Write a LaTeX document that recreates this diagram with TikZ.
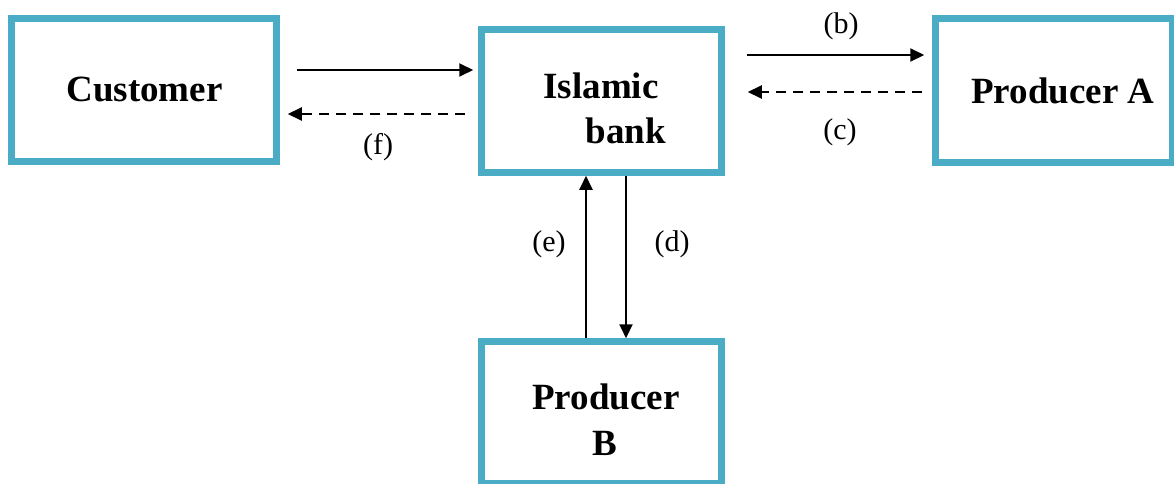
\documentclass[tikz,border=0pt]{standalone}
\usepackage{fontspec}
\setmainfont{Liberation Serif}
\usetikzlibrary{arrows.meta}
\definecolor{boxblue}{HTML}{4BACC6}
\tikzset{
  box/.style={draw=boxblue, line width=6.5pt, rectangle, inner sep=0pt, fill=white},
  bold/.style={font=\fontsize{37}{40}\selectfont\bfseries, inner sep=0pt, anchor=base},
  lbl/.style={font=\fontsize{30}{33}\selectfont, inner sep=0pt},
  arr/.style={line width=2pt, -{Triangle[length=14pt,width=13pt]}},
  darr/.style={arr, dash pattern=on 10pt off 7pt},
}
\begin{document}
\begin{tikzpicture}[x=1pt,y=-1pt]
\useasboundingbox (0,0) rectangle (1174,484);
\clip (0,0) rectangle (1174,484);
\fill[white] (0,0) rectangle (1174,484);
% boxes
\node[box, minimum width=265pt, minimum height=143pt] (cust) at (144,90) {};
\node[box, minimum width=240pt, minimum height=143pt] (bank) at (601.5,101) {};
\node[box, minimum width=237pt, minimum height=144pt] (proda) at (1054,90.5) {};
\node[box, minimum width=240pt, minimum height=142pt] (prodb) at (601.5,412.5) {};
% texts
\node[bold] (tcust) at (144.5,102) {Customer};
\node[bold] (tbank1) at (601,99) {Islamic};
\node[bold] (tbank2) at (626,143) {bank};
\node[bold] (tproda) at (1063,104) {Producer A};
\node[bold] (tprodb1) at (606,409) {Producer};
\node[bold] (tprodb2) at (605,455) {B};
% connectors
\draw[arr, shorten <=17pt, shorten >=5pt] (cust.east |- 0,70) -- (bank.west |- 0,70);
\draw[darr, shorten <=13pt, shorten >=8pt] (bank.west |- 0,114) -- (cust.east |- 0,114);
\draw[arr, shorten <=22pt, shorten >=8pt] (bank.east |- 0,55) -- (proda.west |- 0,55);
\draw[darr, shorten <=10pt, shorten >=23pt] (proda.west |- 0,92) -- (bank.east |- 0,92);
\draw[arr] (prodb.north -| 586,0) -- (bank.south -| 586,0);
\draw[arr] (bank.south -| 626,0) -- (prodb.north -| 626,0);
% labels
\node[lbl] (lf) at (378,147) {(f)};
\node[lbl] (lb) at (841,26) {(b)};
\node[lbl] (lc) at (840,132) {(c)};
\node[lbl] (le) at (549,244) {(e)};
\node[lbl] (ld) at (672,244) {(d)};
\end{tikzpicture}
\end{document}
